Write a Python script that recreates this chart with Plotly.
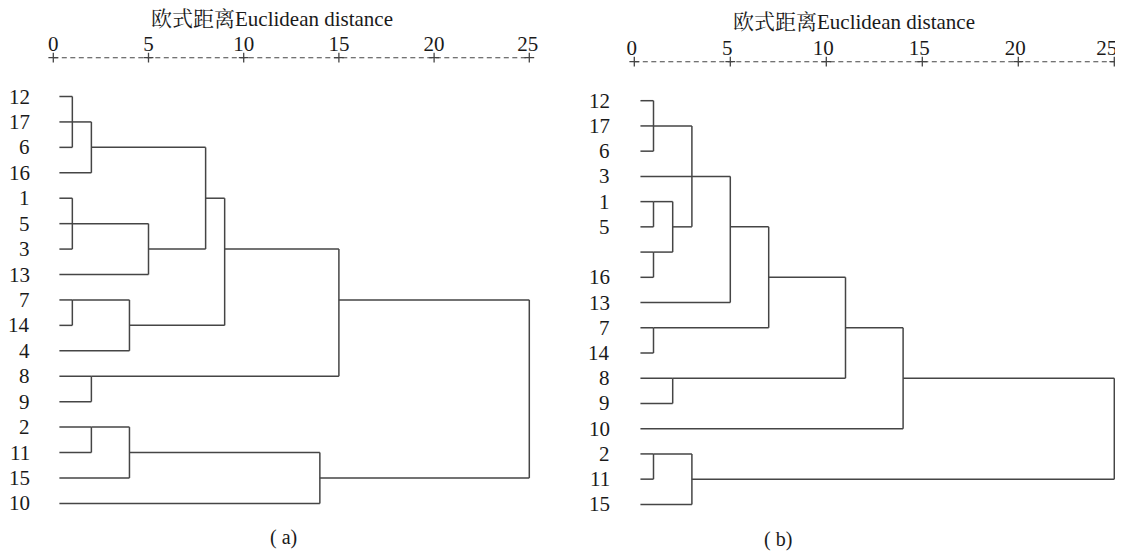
import math
import plotly.graph_objects as go

# ---------------- data ----------------
tick_values = [0, 5, 10, 15, 20, 25]
tick_labels = ["0", "5", "10", "15", "20", "25"]
axis_title = "欧式距离Euclidean distance"
panel_labels = ["( a)", "( b)"]

# panel (a): leaf order, displayed labels, merges (children, rescaled distance)
leaves_a = ["12", "17", "6", "16", "1", "5", "3", "13", "7", "14", "4", "8", "9", "2", "11", "15", "10"]
labels_a = ["12", "17", "6", "16", "1", "5", "3", "13", "7", "14", "4", "8", "9", "2", "11", "15", "10"]
merge_children_a = [
    ["12", "17", "6"], ["m0", "16"], ["1", "5", "3"], ["m2", "13"], ["m1", "m3"],
    ["7", "14"], ["m5", "4"], ["m4", "m6"], ["8", "9"], ["m7", "m8"],
    ["2", "11"], ["m10", "15"], ["m11", "10"], ["m9", "m12"],
]
merge_heights_a = [1, 2, 1, 5, 8, 1, 4, 9, 2, 15, 2, 4, 14, 25]

# panel (b): leaf "4" has no printed label in the source figure
leaves_b = ["12", "17", "6", "3", "1", "5", "4", "16", "13", "7", "14", "8", "9", "10", "2", "11", "15"]
labels_b = ["12", "17", "6", "3", "1", "5", "", "16", "13", "7", "14", "8", "9", "10", "2", "11", "15"]
merge_children_b = [
    ["12", "17", "6"], ["1", "5"], ["4", "16"], ["m1", "m2"], ["m0", "3", "m3"],
    ["m4", "13"], ["7", "14"], ["m5", "m6"], ["8", "9"], ["m7", "m8"],
    ["m9", "10"], ["2", "11"], ["m11", "15"], ["m10", "m12"],
]
merge_heights_b = [1, 1, 1, 2, 3, 5, 1, 7, 2, 11, 14, 1, 3, 25]

# ---------------- style / geometry ----------------
OFF = 8                      # default page body margin
W, H = 1123 - OFF, 554 - OFF
LINE_COLOR = "#454545"
TEXT_COLOR = "#1a1a1a"
FONT = "Liberation Serif, Noto Serif CJK SC, Noto Sans CJK SC, serif"
LEAF_START = 0.32

panels = [
    dict(x0=53.3, ppu=19.04, dom=(0, 562), y0=96.5, ppr=25.43,
         axis_y=57.7, tick_y=46.0, tick_dx=[0, 0, 0, 0, 0, -1.5],
         title=(272.3, 18.5), plabel=(283, 537), lab_right=32.3),
    dict(x0=634.3, ppu=19.2, dom=(566, 1123), y0=100.7, ppr=25.23,
         axis_y=61.7, tick_y=50.0, tick_dx=[-2.5, -3, -3, -3, -3, -7.5],
         title=(854, 22.0), plabel=(778, 539), lab_right=612.3),
]
data_sets = [
    (leaves_a, labels_a, merge_children_a, merge_heights_a),
    (leaves_b, labels_b, merge_children_b, merge_heights_b),
]


def dendro_segments(leaves, children, heights, leaf_start):
    pos = {leaf: i for i, leaf in enumerate(leaves)}
    hgt = {leaf: leaf_start for leaf in leaves}
    xs, ys = [], []
    for k, (ch, h) in enumerate(zip(children, heights)):
        ps = [pos[c] for c in ch]
        for c in ch:
            xs += [hgt[c], h, None]
            ys += [pos[c], pos[c], None]
        xs += [h, h, None]
        ys += [min(ps), max(ps), None]
        key = "m%d" % k
        pos[key] = math.floor((min(ps) + max(ps)) / 2)
        hgt[key] = h
    return xs, ys


fig = go.Figure()
annotations = []
layout_axes = {}

for i, (p, (leaves, labels, children, heights)) in enumerate(zip(panels, data_sets)):
    n = "" if i == 0 else str(i + 1)
    xa, ya = "x" + n, "y" + n
    x0 = p["x0"] - OFF
    y0 = p["y0"] - OFF
    xs, ys = dendro_segments(leaves, children, heights, LEAF_START)
    fig.add_trace(go.Scatter(x=xs, y=ys, mode="lines", xaxis=xa, yaxis=ya,
                             line=dict(color=LINE_COLOR, width=1.5), hoverinfo="skip",
                             showlegend=False))
    # dashed top axis
    ay = (p["axis_y"] - OFF - y0) / p["ppr"]
    fig.add_trace(go.Scatter(x=[tick_values[0], tick_values[-1]], y=[ay, ay], mode="lines",
                             xaxis=xa, yaxis=ya, showlegend=False, hoverinfo="skip",
                             line=dict(color=LINE_COLOR, width=1.1, dash="5px,3.5px")))
    fig.add_trace(go.Scatter(x=tick_values, y=[ay] * len(tick_values), mode="markers",
                             xaxis=xa, yaxis=ya, showlegend=False, hoverinfo="skip",
                             marker=dict(symbol="cross-thin", size=7,
                                         line=dict(color=LINE_COLOR, width=1.3))))
    ty = (p["tick_y"] - OFF - y0) / p["ppr"]
    tx = [v + dx / p["ppu"] for v, dx in zip(tick_values, p["tick_dx"])]
    fig.add_trace(go.Scatter(x=tx, y=[ty] * len(tick_values), mode="text",
                             text=tick_labels, xaxis=xa, yaxis=ya, showlegend=False,
                             hoverinfo="skip", cliponaxis=False,
                             textfont=dict(family=FONT, size=21, color=TEXT_COLOR)))
    # leaf labels
    lx = (p["lab_right"] - OFF - x0) / p["ppu"]
    for j, lab in enumerate(labels):
        if lab:
            annotations.append(dict(x=lx, y=j, xref=xa, yref=ya, text=lab, showarrow=False,
                                    xanchor="right", yanchor="middle",
                                    font=dict(family=FONT, size=21, color=TEXT_COLOR)))
    # title & panel label
    annotations.append(dict(x=(p["title"][0] - OFF) / W, y=1 - (p["title"][1] - OFF) / H,
                            xref="paper", yref="paper", text=axis_title, showarrow=False,
                            xanchor="center", yanchor="middle", borderpad=0,
                            font=dict(family=FONT, size=21, color=TEXT_COLOR)))
    annotations.append(dict(x=(p["plabel"][0] - OFF) / W, y=1 - (p["plabel"][1] - OFF) / H,
                            xref="paper", yref="paper", text=panel_labels[i], showarrow=False,
                            xanchor="center", yanchor="middle",
                            font=dict(family=FONT, size=20, color=TEXT_COLOR)))
    d0, d1 = p["dom"][0] - OFF, p["dom"][1] - OFF
    layout_axes["xaxis" + n] = dict(domain=[max(d0, 0) / W, min(d1, W) / W],
                                    range=[(max(d0, 0) - x0) / p["ppu"], (min(d1, W) - x0) / p["ppu"]],
                                    visible=False, anchor=ya)
    layout_axes["yaxis" + n] = dict(domain=[0, 1],
                                    range=[(H - y0) / p["ppr"], -y0 / p["ppr"]],
                                    visible=False, anchor=xa)

fig.update_layout(width=W, height=H, margin=dict(l=0, r=0, t=0, b=0),
                  plot_bgcolor="white", paper_bgcolor="white",
                  annotations=annotations, **layout_axes)

fig.write_html("out.html")
